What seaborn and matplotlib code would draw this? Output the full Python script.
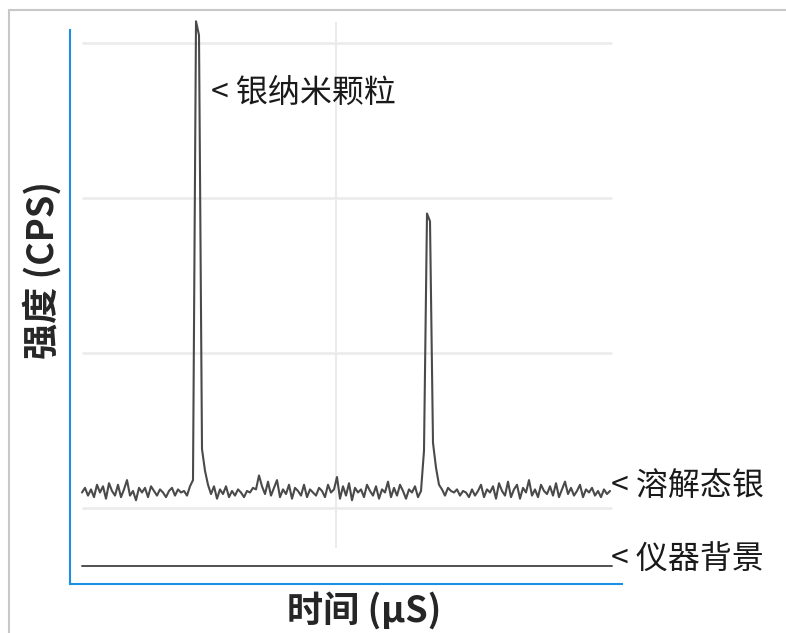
import numpy as np
import pandas as pd
import matplotlib
matplotlib.use("Agg")
import matplotlib.pyplot as plt
from matplotlib.lines import Line2D
import seaborn as sns

# ---- data ----
signal = [
    0.10, 0.13, 0.08, 0.12, 0.07, 0.15, 0.10, 0.14, 0.06, 0.16,
    0.11, 0.08, 0.15, 0.07, 0.12, 0.18, 0.08, 0.11, 0.05, 0.13,
    0.10, 0.13, 0.07, 0.14, 0.11, 0.08, 0.12, 0.10, 0.07, 0.11,
    0.13, 0.08, 0.12, 0.10, 0.11, 0.08, 0.14, 0.18,
    3.14, 3.05,
    0.38, 0.24, 0.15, 0.09, 0.14, 0.06, 0.12, 0.09, 0.14, 0.07,
    0.11, 0.08, 0.12, 0.10, 0.07, 0.11, 0.10, 0.13, 0.12, 0.21,
    0.14, 0.09, 0.17, 0.08, 0.13, 0.18, 0.07, 0.12, 0.09, 0.15,
    0.06, 0.13, 0.11, 0.08, 0.15, 0.07, 0.12, 0.10, 0.08, 0.13,
    0.11, 0.07, 0.15, 0.10, 0.12, 0.20, 0.06, 0.14, 0.08, 0.16,
    0.05, 0.13, 0.10, 0.12, 0.07, 0.15, 0.11, 0.08, 0.14, 0.06,
    0.12, 0.10, 0.17, 0.07, 0.13, 0.08, 0.15, 0.11, 0.06, 0.12,
    0.10, 0.14, 0.07, 0.11, 0.37,
    1.90, 1.85,
    0.42, 0.26, 0.15,
    0.12, 0.08, 0.13, 0.11, 0.10, 0.12, 0.08, 0.11, 0.10, 0.07,
    0.12, 0.08, 0.11, 0.15, 0.07, 0.12, 0.10, 0.14, 0.06, 0.16,
    0.11, 0.08, 0.17, 0.07, 0.12, 0.15, 0.06, 0.13, 0.10, 0.18,
    0.08, 0.12, 0.07, 0.15, 0.11, 0.09, 0.14, 0.08, 0.16, 0.07,
    0.12, 0.17, 0.09, 0.13, 0.08, 0.11, 0.15, 0.07, 0.12, 0.10,
    0.13, 0.08, 0.11, 0.07, 0.12, 0.09, 0.11,
]
time = list(np.arange(len(signal)) * 3)
background_time = [0, 530]
background = [-0.374, -0.374]
grid_levels = [0, 1, 2, 3]
labels = {"particle": "< 银纳米颗粒", "dissolved": "< 溶解态银", "background": "< 仪器背景"}
xlabel = "时间 (μS)"
ylabel = "强度 (CPS)"

sns.set_style("white")
plt.rcParams["font.family"] = ["Noto Sans CJK SC", "DejaVu Sans"]

W, H = 786, 633
fig = plt.figure(figsize=(W / 100, H / 100), dpi=100)
ax = fig.add_axes([70 / W, (H - 584) / H, 552 / W, 564 / H])

ax.set_xlim(-12, 540)
ax.set_ylim((508 - 584) / 155, (508 - 20) / 155)

# grid lines
ax.hlines(grid_levels, 0, 530, color="#ebebeb", lw=1.8, zorder=0)
ax.vlines(254, (508 - 548) / 155, (508 - 22) / 155, color="#ebebeb", lw=1.5, zorder=0, clip_on=False)

df = pd.DataFrame({"t": time, "v": signal})
sns.lineplot(data=df, x="t", y="v", ax=ax, color="#4a4a4a", lw=1.5, clip_on=False)
sns.lineplot(x=background_time, y=background, ax=ax, color="#505050", lw=1.4)

fs = 23
ax.text(129, (508 - 93) / 155, labels["particle"], fontsize=fs, va="center", ha="left", color="#1a1a1a")
ax.text(529, (508 - 487) / 155, labels["dissolved"], fontsize=fs, va="center", ha="left", color="#1a1a1a", clip_on=False)
ax.text(529, (508 - 560) / 155, labels["background"], fontsize=fs, va="center", ha="left", color="#1a1a1a", clip_on=False)

ax.set_xticks([])
ax.set_yticks([])
ax.set_xlabel("")
ax.set_ylabel("")
for s in ["top", "right"]:
    ax.spines[s].set_visible(False)
for s in ["left", "bottom"]:
    ax.spines[s].set_color("#1a8fe3")
    ax.spines[s].set_linewidth(1.5)
ax.spines["left"].set_bounds((508 - 584) / 155, (508 - 30) / 155)

fig.text(42 / W, 1 - 270 / H, ylabel, rotation=90, fontsize=26, fontweight="bold", ha="center", va="center")
fig.text(364 / W, 1 - 611 / H, xlabel, fontsize=26, fontweight="bold", ha="center", va="center")

# outer frame
fig.add_artist(Line2D([9 / W, 1], [1 - 10 / H, 1 - 10 / H], transform=fig.transFigure, color="#c8c8c8", lw=1.5))
fig.add_artist(Line2D([9 / W, 9 / W], [0, 1 - 10 / H], transform=fig.transFigure, color="#c8c8c8", lw=1.5))

fig.savefig("out.png", dpi=100)
